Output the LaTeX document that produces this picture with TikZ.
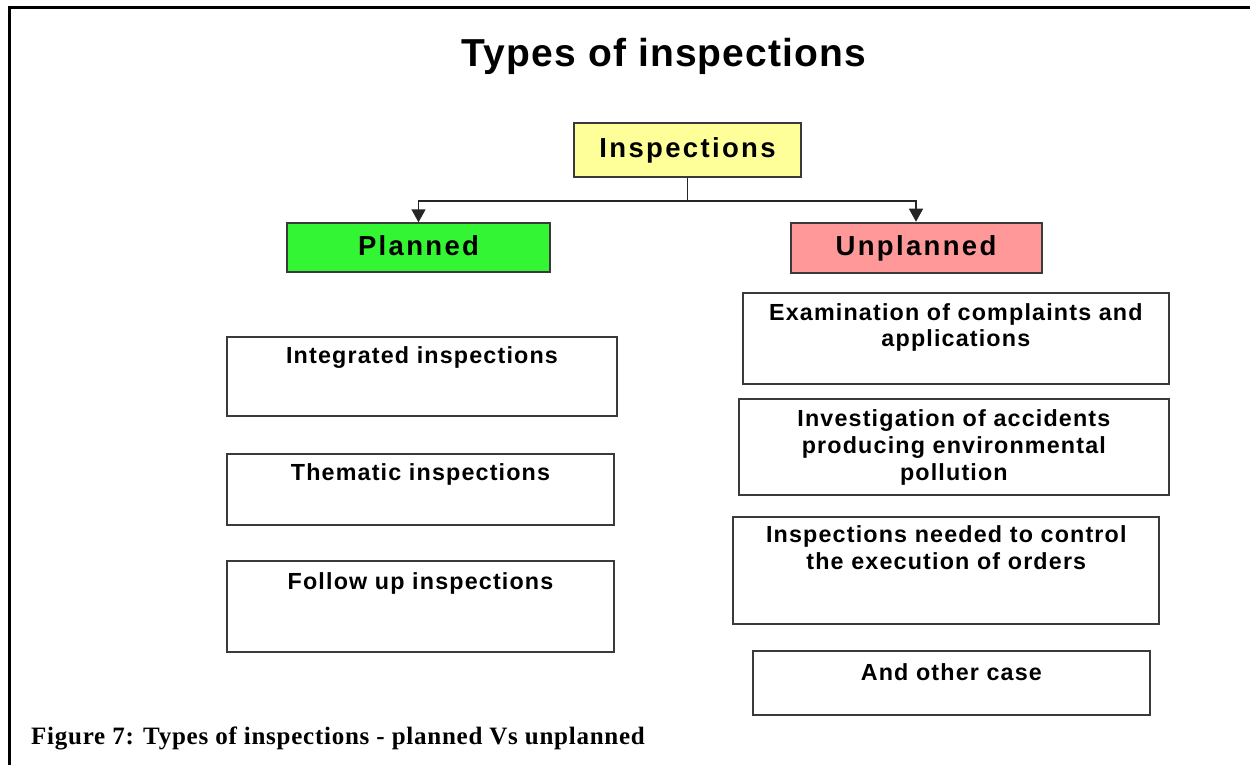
\documentclass[tikz,border=0pt]{standalone}
\usepackage{fontspec}
\setmainfont{Liberation Sans}
\newfontfamily\capfont{Liberation Serif}
\usetikzlibrary{arrows.meta,calc}
\definecolor{yel}{HTML}{FFFF99}
\definecolor{grn}{HTML}{33F533}
\definecolor{pnk}{HTML}{FF9999}
\definecolor{edge}{HTML}{3A3A3A}
\tikzset{
  box/.style={draw=edge, line width=2pt, inner sep=0pt, anchor=north west},
  headbox/.style={box, text height=20pt, text depth=5.2pt, font=\fontsize{27.5}{30}\selectfont\bfseries\addfontfeature{LetterSpace=8.5}},
  lbl/.style={inner sep=0pt, align=center, font=\fontsize{23.3}{26.8}\selectfont\bfseries\addfontfeature{LetterSpace=5}},
  conn/.style={draw=black!85, line width=1.5pt},
  tip/.style={-{Triangle[width=14pt,length=13pt]}}
}
\begin{document}
\begin{tikzpicture}[x=1pt,y=-1pt]
\useasboundingbox[fill=white] (0,0) rectangle (1250,765);
% frame
\draw[line width=2.2pt] (9.5,765) -- (9.5,7.5) -- (1250,7.5);
% title
\node[inner sep=0pt, anchor=base, font=\fontsize{39}{44}\selectfont\bfseries\addfontfeature{LetterSpace=3}] (title) at (664,66.7) {Types of inspections};
% head boxes
\node[headbox, fill=yel, minimum width=227pt, minimum height=54pt] (insp) at (573,122) {Inspections};
\node[headbox, fill=grn, minimum width=263.6pt, minimum height=48.7pt] (plan) at (285.7,222.3) {Planned};
\node[headbox, fill=pnk, minimum width=251pt, minimum height=50pt] (unpl) at (789.5,221.7) {Unplanned};
% connectors
\coordinate (j) at ($(insp.south)+(0,23)$);
\draw[conn] (insp.south) -- (j);
\draw[conn,tip] (j) -| (plan.north);
\draw[conn,tip] (j) -| (unpl.north);
% planned items
\node[box, minimum width=390pt, minimum height=79pt] (integ) at (226,336) {};
\node[lbl, anchor=base] (integT) at ($(integ.north)+(0,27.3)$) {Integrated inspections};
\node[box, minimum width=387pt, minimum height=71.6pt] (them) at (226,452.7) {};
\node[lbl, anchor=base] (themT) at ($(them.north)+(0,28)$) {Thematic inspections};
\node[box, minimum width=387pt, minimum height=90.7pt] (foll) at (226,560) {};
\node[lbl, anchor=base] (follT) at ($(foll.north)+(0,29.3)$) {Follow up inspections};
% unplanned items
\node[box, minimum width=426.3pt, minimum height=90.4pt] (exam) at (741.7,292.3) {};
\node[lbl, anchor=north] (examT) at ($(exam.north)+(0,10.7)$) {Examination of complaints and\\applications};
\node[box, minimum width=430.3pt, minimum height=96pt] (inv) at (737.7,398.3) {};
\node[lbl, anchor=north] (invT) at ($(inv.north)+(0,11.4)$) {Investigation of accidents\\producing environmental\\pollution};
\node[box, minimum width=426pt, minimum height=107.6pt] (need) at (732.3,515.7) {};
\node[lbl, anchor=north] (needT) at ($(need.north)+(0,9.6)$) {Inspections needed to control\\the execution of orders};
\node[box, minimum width=397.3pt, minimum height=64pt] (other) at (751.7,650) {};
\node[lbl, anchor=base] (otherT) at ($(other.north)+(0,30)$) {And other case};
% caption
\node[inner sep=0pt, anchor=base west, font=\capfont\fontsize{25}{29}\selectfont\bfseries\addfontfeature{LetterSpace=3}] (cap) at (31,744) {Figure 7: Types of inspections - planned Vs unplanned};
\end{tikzpicture}
\end{document}
